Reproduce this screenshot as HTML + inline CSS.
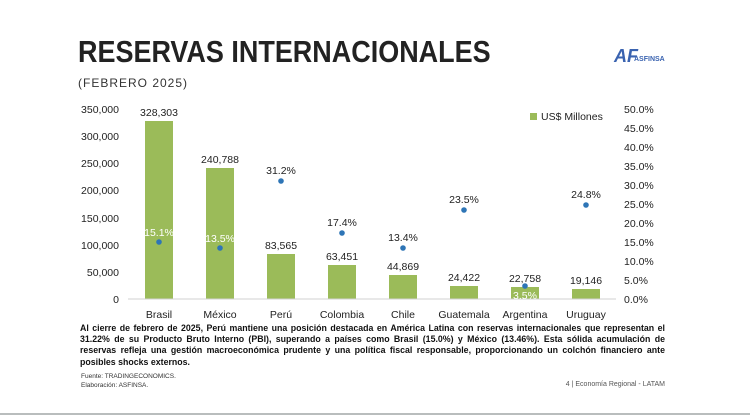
<!DOCTYPE html>
<html><head><meta charset="utf-8"><style>
body{margin:0;width:750px;height:420px;background:#fff;overflow:hidden;font-family:"Liberation Sans",sans-serif;position:relative}
.t{position:absolute;left:78px;top:34px;font-size:31px;font-weight:bold;color:#222;transform-origin:0 0;transform:scaleX(0.87);white-space:nowrap}
.s{position:absolute;left:78px;top:76px;font-size:12px;color:#333;letter-spacing:1px}
.p{position:absolute;left:80px;top:323px;width:585px;font-size:8.8px;font-weight:bold;color:#111;line-height:11.2px;text-align:justify}
</style></head><body>
<div class="t">RESERVAS INTERNACIONALES</div>
<div class="s">(FEBRERO 2025)</div>
<div style="position:absolute;left:614px;top:46px;font-size:18px;font-weight:bold;color:#3a63b0;font-style:italic">AF</div>
<div style="position:absolute;left:634px;top:56px;font-size:7px;font-weight:bold;color:#3a63b0">ASFINSA</div>
<svg width="750" height="420" style="position:absolute;left:0;top:0" font-family="Liberation Sans,sans-serif">
<g font-size="10.5" fill="#222" text-anchor="end">
<text x="119" y="113">350,000</text><text x="119" y="140">300,000</text><text x="119" y="167">250,000</text><text x="119" y="194">200,000</text><text x="119" y="222">150,000</text><text x="119" y="249">100,000</text><text x="119" y="276">50,000</text><text x="119" y="303">0</text>
</g>
<g font-size="10.5" fill="#222">
<text x="624" y="113">50.0%</text><text x="624" y="132">45.0%</text><text x="624" y="151">40.0%</text><text x="624" y="170">35.0%</text><text x="624" y="189">30.0%</text><text x="624" y="208">25.0%</text><text x="624" y="227">20.0%</text><text x="624" y="246">15.0%</text><text x="624" y="265">10.0%</text><text x="624" y="284">5.0%</text><text x="624" y="303">0.0%</text>
</g>
<rect x="530" y="113" width="7" height="7" fill="#9bbb59"/>
<text x="541" y="120" font-size="10.5" fill="#222">US$ Millones</text>
<g fill="#9bbb59">
<rect x="145" y="121" width="28" height="178"/><rect x="206" y="168" width="28" height="131"/><rect x="267" y="254" width="28" height="45"/><rect x="328" y="265" width="28" height="34"/><rect x="389" y="275" width="28" height="24"/><rect x="450" y="286" width="28" height="13"/><rect x="511" y="287" width="28" height="12"/><rect x="572" y="289" width="28" height="10"/>
</g>
<line x1="128" y1="299" x2="616" y2="299" stroke="#d0d0d0"/>
<g font-size="10.5" fill="#222" text-anchor="middle">
<text x="159" y="116">328,303</text><text x="220" y="163">240,788</text><text x="281" y="249">83,565</text><text x="342" y="260">63,451</text><text x="403" y="270">44,869</text><text x="464" y="281">24,422</text><text x="525" y="282">22,758</text><text x="586" y="284">19,146</text>
<text x="159" y="318">Brasil</text><text x="220" y="318">México</text><text x="281" y="318">Perú</text><text x="342" y="318">Colombia</text><text x="403" y="318">Chile</text><text x="464" y="318">Guatemala</text><text x="525" y="318">Argentina</text><text x="586" y="318">Uruguay</text>
<text x="281" y="174">31.2%</text><text x="342" y="226">17.4%</text><text x="403" y="241">13.4%</text><text x="464" y="203">23.5%</text><text x="586" y="198">24.8%</text>
<g fill="#fff"><text x="159" y="236">15.1%</text><text x="220" y="242">13.5%</text><text x="525" y="299">3.5%</text></g>
</g>
<g fill="#2e75b6">
<circle cx="159" cy="242" r="2.8"/><circle cx="220" cy="248" r="2.8"/><circle cx="281" cy="181" r="2.8"/><circle cx="342" cy="233" r="2.8"/><circle cx="403" cy="248" r="2.8"/><circle cx="464" cy="210" r="2.8"/><circle cx="525" cy="286" r="2.8"/><circle cx="586" cy="205" r="2.8"/>
</g>
<text x="81" y="378" font-size="6.5" fill="#333">Fuente: TRADINGECONOMICS.</text>
<text x="81" y="387" font-size="6.5" fill="#333">Elaboración: ASFINSA.</text>
<text x="665" y="386" font-size="7" fill="#555" text-anchor="end">4 | Economía Regional - LATAM</text>
<rect x="0" y="413" width="750" height="2" fill="#b9bdbd"/>
</svg>
<div class="p">Al cierre de febrero de 2025, Perú mantiene una posición destacada en América Latina con reservas internacionales que representan el 31.22% de su Producto Bruto Interno (PBI), superando a países como Brasil (15.0%) y México (13.46%). Esta sólida acumulación de reservas refleja una gestión macroeconómica prudente y una política fiscal responsable, proporcionando un colchón financiero ante posibles shocks externos.</div>
</body></html>
